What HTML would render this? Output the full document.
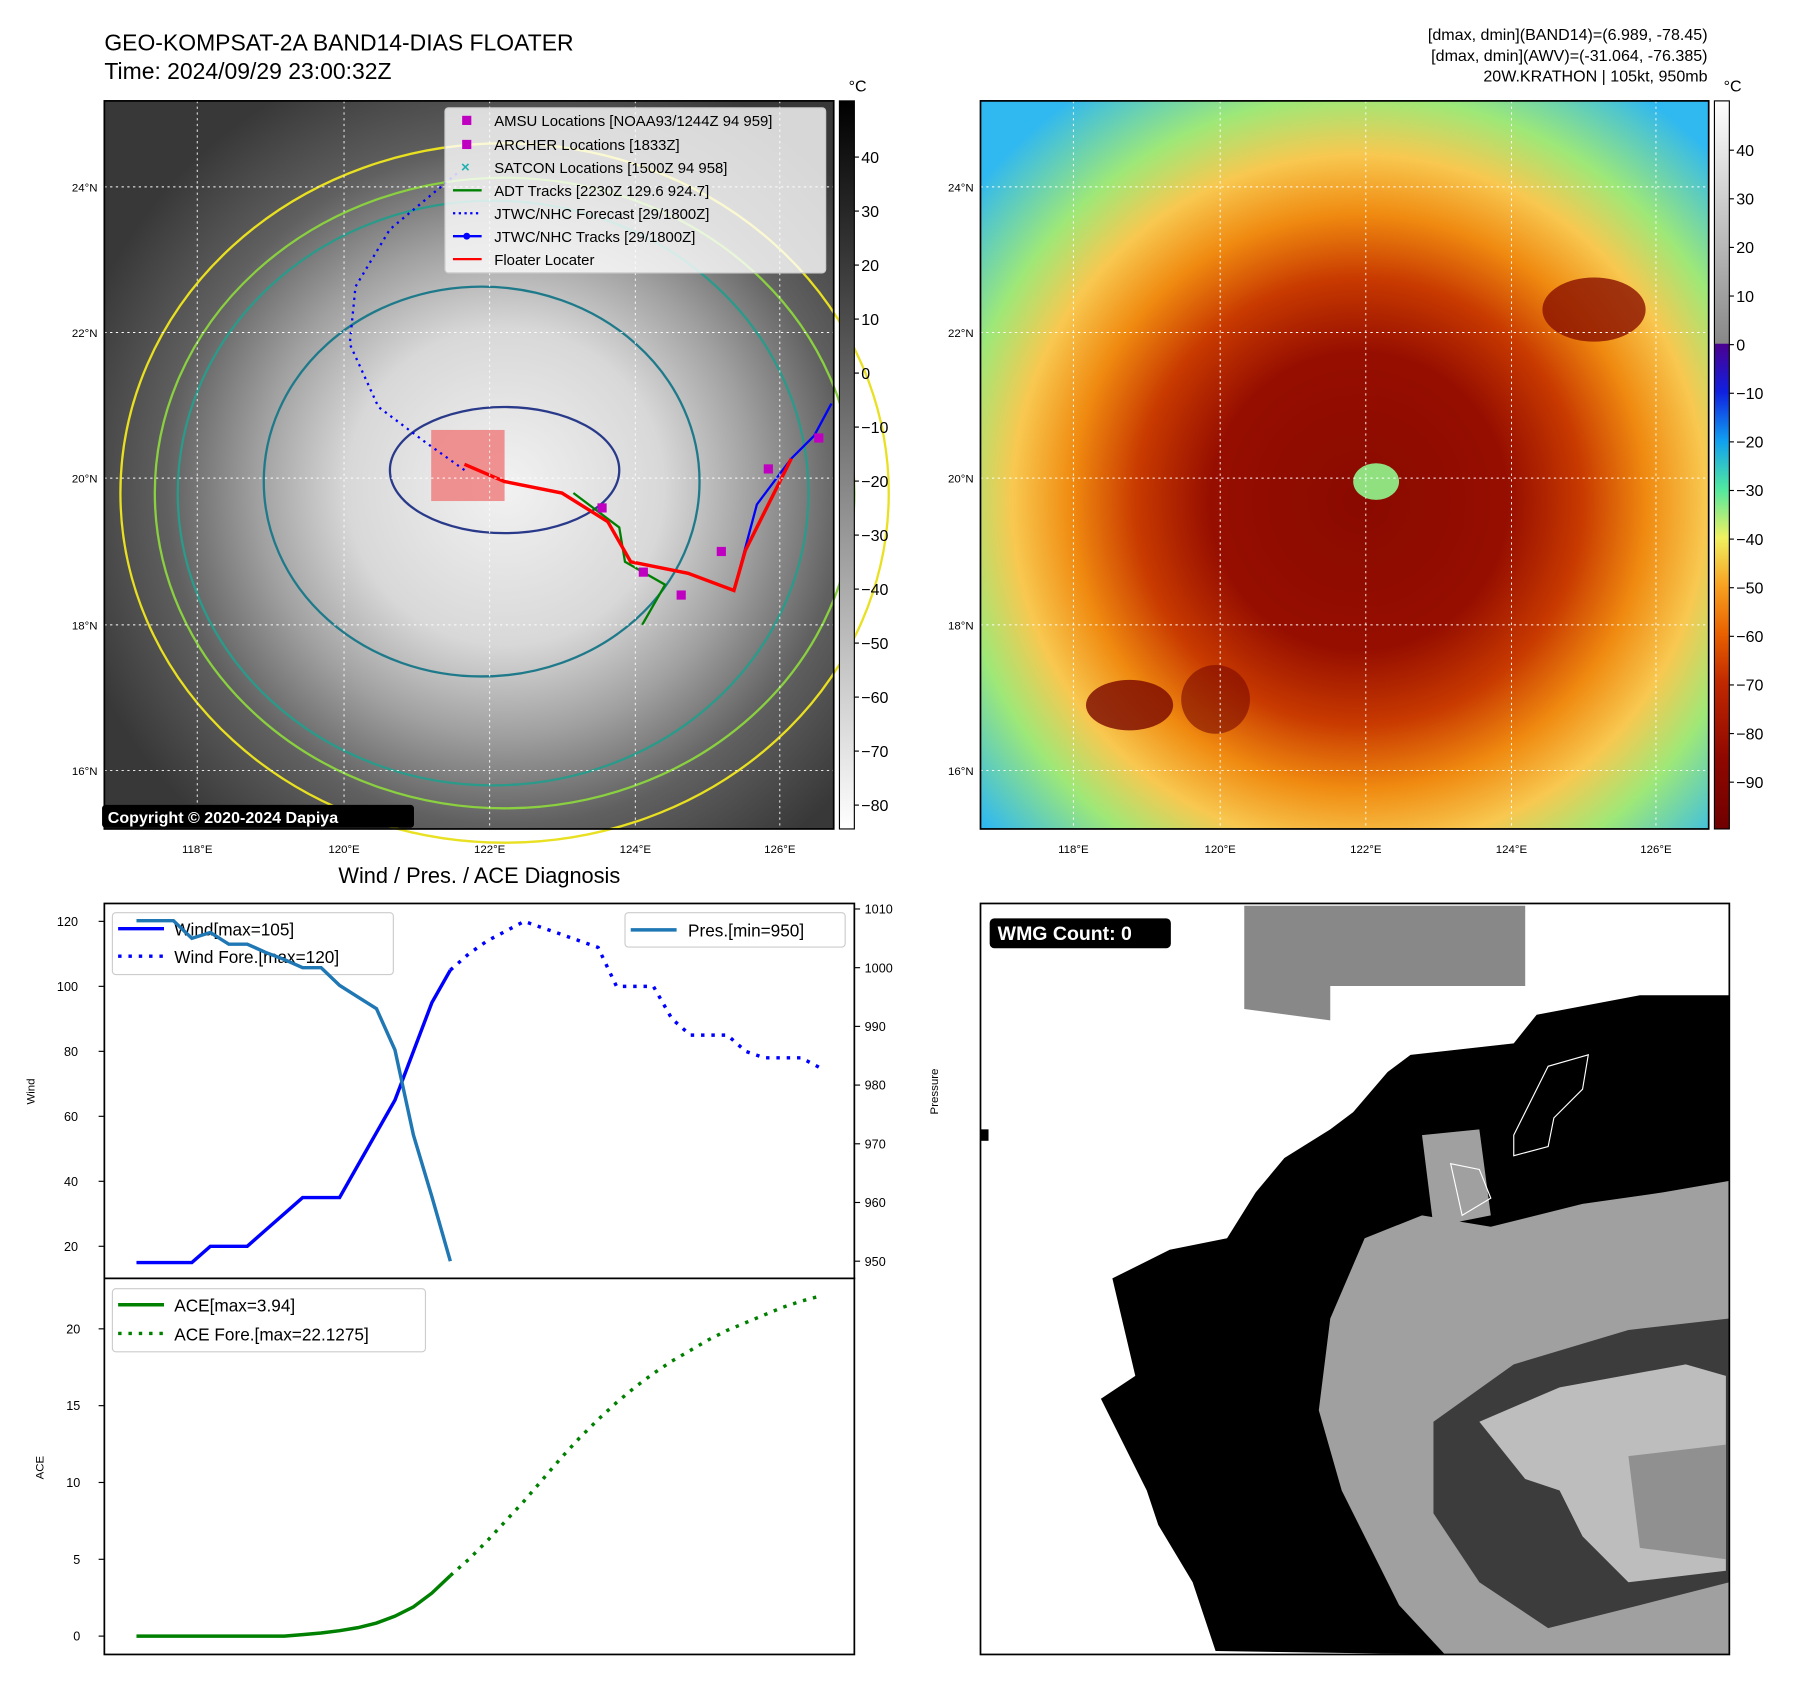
<!DOCTYPE html>
<html><head><meta charset="utf-8"><style>
html,body{margin:0;padding:0;background:#fff;}
svg{display:block;font-family:"Liberation Sans",sans-serif;}
</style></head><body>
<svg id="fig" width="1797" height="1690" viewBox="0 0 1567 1474" preserveAspectRatio="none" xmlns="http://www.w3.org/2000/svg">
<defs>
<radialGradient id="irg" cx="0.55" cy="0.53" r="0.62">
<stop offset="0" stop-color="#f2f2f2"/><stop offset="0.35" stop-color="#d8d8d8"/><stop offset="0.55" stop-color="#a0a0a0"/><stop offset="0.75" stop-color="#606060"/><stop offset="1" stop-color="#383838"/></radialGradient>
<radialGradient id="awv" cx="0.52" cy="0.55" r="0.68">
<stop offset="0" stop-color="#8a0a00"/><stop offset="0.3" stop-color="#960e00"/><stop offset="0.45" stop-color="#c83a00"/><stop offset="0.58" stop-color="#f08a10"/><stop offset="0.7" stop-color="#f8c850"/><stop offset="0.82" stop-color="#9ee878"/><stop offset="1" stop-color="#30b8f0"/></radialGradient>
<linearGradient id="cb1" x1="0" y1="0" x2="0" y2="1"><stop offset="0" stop-color="#000"/><stop offset="1" stop-color="#fff"/></linearGradient>
<linearGradient id="cb2" x1="0" y1="0" x2="0" y2="1">
<stop offset="0" stop-color="#fff"/><stop offset="0.333" stop-color="#888"/><stop offset="0.334" stop-color="#4b0090"/><stop offset="0.4" stop-color="#1020e0"/><stop offset="0.467" stop-color="#10a0f0"/><stop offset="0.533" stop-color="#50e8a0"/><stop offset="0.6" stop-color="#f0f060"/><stop offset="0.667" stop-color="#f8a020"/><stop offset="0.733" stop-color="#e86000"/><stop offset="0.8" stop-color="#c02800"/><stop offset="0.9" stop-color="#900800"/><stop offset="1" stop-color="#700000"/></linearGradient>
</defs>

<text x="91" y="44" font-size="20">GEO-KOMPSAT-2A BAND14-DIAS FLOATER</text>
<text x="91" y="69" font-size="20">Time: 2024/09/29 23:00:32Z</text>
<g font-size="14" text-anchor="end">
<text x="1489" y="35">[dmax, dmin](BAND14)=(6.989, -78.45)</text>
<text x="1489" y="53">[dmax, dmin](AWV)=(-31.064, -76.385)</text>
<text x="1489" y="71">20W.KRATHON | 105kt, 950mb</text></g>

<g>
<rect x="91" y="88" width="636" height="635" fill="url(#irg)"/>
<g fill="none" stroke-width="2">
<ellipse cx="440" cy="430" rx="335" ry="305" stroke="#e8e020"/>
<ellipse cx="440" cy="430" rx="305" ry="275" stroke="#8ad040"/>
<ellipse cx="430" cy="430" rx="275" ry="255" stroke="#2a9a8a"/>
<ellipse cx="420" cy="420" rx="190" ry="170" stroke="#1e7a8a"/>
<ellipse cx="440" cy="410" rx="100" ry="55" stroke="#2a3a8a"/>
</g>
<rect x="376" y="375" width="64" height="62" fill="#f08080" opacity="0.85"/>
<path d="M405 410 L370 385 L330 355 L305 300 L310 250 L340 200 L400 150" fill="none" stroke="#0000ff" stroke-width="2" stroke-dasharray="2,4"/>
<path d="M640 515 L660 440 L690 400 L710 380 L725 352" fill="none" stroke="#0000ff" stroke-width="2"/>
<path d="M560 545 L580 510 L545 490 L540 460 L500 430" fill="none" stroke="#008000" stroke-width="2"/>
<path d="M405 405 L440 420 L490 430 L530 455 L550 490 L600 500 L640 515 L650 480 L670 440 L690 400" fill="none" stroke="#ff0000" stroke-width="3"/>
<g fill="#c000c0"><rect x="521" y="439" width="8" height="8"/><rect x="590" y="515" width="8" height="8"/><rect x="625" y="477" width="8" height="8"/><rect x="666" y="405" width="8" height="8"/><rect x="710" y="378" width="8" height="8"/><rect x="557" y="495" width="8" height="8"/></g>
<g stroke="#fff" stroke-width="0.8" stroke-dasharray="2,3">
<line x1="172" y1="88" x2="172" y2="723"/><line x1="300" y1="88" x2="300" y2="723"/><line x1="427" y1="88" x2="427" y2="723"/><line x1="554" y1="88" x2="554" y2="723"/><line x1="680" y1="88" x2="680" y2="723"/>
<line x1="91" y1="163" x2="727" y2="163"/><line x1="91" y1="290" x2="727" y2="290"/><line x1="91" y1="417" x2="727" y2="417"/><line x1="91" y1="545" x2="727" y2="545"/><line x1="91" y1="672" x2="727" y2="672"/></g>
<rect x="91" y="88" width="636" height="635" fill="none" stroke="#000" stroke-width="1.5"/>
<rect x="89" y="702" width="272" height="20" rx="3" fill="#000"/>
<text x="94" y="718" font-size="14" font-weight="bold" fill="#fff">Copyright © 2020-2024 Dapiya</text>
</g>
<g font-size="13">
<rect x="388" y="94" width="332" height="144" rx="3" fill="#fff" fill-opacity="0.8" stroke="#ccc"/>
<rect x="403" y="101" width="8" height="8" fill="#c000c0"/><text x="431" y="110">AMSU Locations [NOAA93/1244Z 94 959]</text>
<rect x="403" y="122" width="8" height="8" fill="#c000c0"/><text x="431" y="131">ARCHER Locations [1833Z]</text>
<text x="402" y="150" fill="#20b0b0" font-weight="bold">×</text><text x="431" y="151">SATCON Locations [1500Z 94 958]</text>
<line x1="395" y1="166" x2="420" y2="166" stroke="#008000" stroke-width="2"/><text x="431" y="171">ADT Tracks [2230Z 129.6 924.7]</text>
<line x1="395" y1="186" x2="420" y2="186" stroke="#0000ff" stroke-width="2" stroke-dasharray="2,3"/><text x="431" y="191">JTWC/NHC Forecast [29/1800Z]</text>
<line x1="395" y1="206" x2="420" y2="206" stroke="#0000ff" stroke-width="2"/><circle cx="407" cy="206" r="3" fill="#0000ff"/><text x="431" y="211">JTWC/NHC Tracks [29/1800Z]</text>
<line x1="395" y1="226" x2="420" y2="226" stroke="#ff0000" stroke-width="2"/><text x="431" y="231">Floater Locater</text>
</g>
<g font-size="14">
<rect x="732" y="88" width="13" height="635" fill="url(#cb1)" stroke="#000"/>
<text x="740" y="80">°C</text>
<g id="cb1ticks"></g></g>

<g>
<rect x="855" y="88" width="635" height="635" fill="url(#awv)"/>
<ellipse cx="1390" cy="270" rx="45" ry="28" fill="#8a1000" opacity="0.8"/>
<ellipse cx="985" cy="615" rx="38" ry="22" fill="#7a0800" opacity="0.8"/>
<ellipse cx="1060" cy="610" rx="30" ry="30" fill="#7a0800" opacity="0.6"/>
<ellipse cx="1200" cy="420" rx="20" ry="16" fill="#90e080"/>
<g stroke="#fff" stroke-width="0.8" stroke-dasharray="2,3">
<line x1="936" y1="88" x2="936" y2="723"/><line x1="1064" y1="88" x2="1064" y2="723"/><line x1="1191" y1="88" x2="1191" y2="723"/><line x1="1318" y1="88" x2="1318" y2="723"/><line x1="1444" y1="88" x2="1444" y2="723"/>
<line x1="855" y1="163" x2="1490" y2="163"/><line x1="855" y1="290" x2="1490" y2="290"/><line x1="855" y1="417" x2="1490" y2="417"/><line x1="855" y1="545" x2="1490" y2="545"/><line x1="855" y1="672" x2="1490" y2="672"/></g>
<rect x="855" y="88" width="635" height="635" fill="none" stroke="#000" stroke-width="1.5"/>
</g>
<g font-size="14">
<rect x="1495" y="88" width="13" height="635" fill="url(#cb2)" stroke="#000"/>
<text x="1503" y="80">°C</text>
<g id="cb2ticks"></g></g>
<g id="maplabels" font-size="10"></g>

<g>
<rect x="855" y="788" width="653" height="655" fill="#fff"/>
<polygon points="1085,790 1330,790 1330,860 1160,860 1160,890 1085,880" fill="#888"/>
<polygon points="855,985 862,985 862,995 855,995" fill="#000"/>
<polygon points="1508,868 1430,868 1340,885 1320,910 1230,920 1210,935 1180,970 1160,985 1120,1010 1095,1040 1070,1080 1020,1090 970,1115 990,1200 960,1220 1000,1300 1010,1330 1040,1380 1060,1440 1260,1443 1508,1443 1508,1380" fill="#000"/>
<polygon points="1508,1030 1450,1040 1380,1050 1300,1070 1240,1060 1190,1080 1160,1150 1150,1230 1170,1300 1220,1400 1260,1443 1508,1443" fill="#a0a0a0"/>
<polygon points="1250,1240 1320,1190 1420,1160 1508,1150 1508,1380 1430,1400 1350,1420 1290,1380 1250,1320" fill="#3c3c3c"/>
<polygon points="1290,1240 1360,1210 1470,1190 1505,1200 1505,1370 1420,1380 1380,1340 1360,1300 1330,1290" fill="#bdbdbd"/>
<polygon points="1420,1270 1505,1260 1505,1360 1430,1350" fill="#909090"/>
<polygon points="1240,990 1290,985 1300,1060 1250,1070" fill="#a0a0a0"/>
<path d="M1320 990 L1350 930 L1385 920 L1380 950 L1355 975 L1350 1000 L1320 1008 Z M1265 1015 L1290 1020 L1300 1045 L1275 1060 Z" fill="none" stroke="#fff" stroke-width="1"/>
<rect x="855" y="788" width="653" height="655" fill="none" stroke="#000" stroke-width="1.5"/>
<rect x="863" y="801" width="158" height="26" rx="4" fill="#000"/>
<text x="870" y="820" font-size="17" font-weight="bold" fill="#fff">WMG Count: 0</text>
</g>

<text x="418" y="770" font-size="19" text-anchor="middle">Wind / Pres. / ACE Diagnosis</text>
<g id="wind-chart"></g>
<g id="ace-chart"></g>
</svg>
<script>
const windHist=[15,15,15,15,20,20,20,25,30,35,35,35,45,55,65,80,95,105];
const windFore=[105,110,114,117,120,118,116,114,112,100,100,100,90,85,85,85,80,78,78,78,75];
const presHist=[1008,1008,1008,1005,1006,1004,1004,1002.6,1001.4,1000,1000,997,995,993,986,971.5,961,950];
const aceHist=[0,0,0,0,0,0,0,0,0,0.1,0.2,0.35,0.55,0.85,1.3,1.9,2.8,3.94];
const aceFore=[3.94,5,6.2,7.5,8.8,10.2,11.6,12.9,14.1,15.2,16.2,17.1,17.9,18.6,19.3,19.9,20.4,20.9,21.4,21.8,22.13];
const windTicks=[20,40,60,80,100,120];
const presTicks=[950,960,970,980,990,1000,1010];
const aceTicks=[0,5,10,15,20];
const NS='http://www.w3.org/2000/svg';
function mk(tag,attrs,parent,text){const e=document.createElementNS(NS,tag);for(const k in attrs)e.setAttribute(k,attrs[k]);if(text!==undefined)e.textContent=text;parent.appendChild(e);return e;}
const xs=i=>119+i*16.1;
const yW=v=>1087-(v-20)*2.834;
const yP=v=>1100-(v-950)*5.12;
const yA=v=>1427-v*13.4;
const wc=document.getElementById('wind-chart');
const ac=document.getElementById('ace-chart');
mk('rect',{x:91,y:788,width:654,height:327,fill:'#fff',stroke:'#000','stroke-width':1.5},wc);
mk('rect',{x:91,y:1115,width:654,height:328,fill:'#fff',stroke:'#000','stroke-width':1.5},ac);
windTicks.forEach(v=>{mk('line',{x1:86,x2:91,y1:yW(v),y2:yW(v),stroke:'#000'},wc);const t=mk('text',{x:68,y:yW(v)+4,'font-size':11,'text-anchor':'end'},wc,v);});
presTicks.forEach(v=>{mk('line',{x1:745,x2:750,y1:yP(v),y2:yP(v),stroke:'#000'},wc);const t=mk('text',{x:754,y:yP(v)+4,'font-size':11},wc,v);});
aceTicks.forEach(v=>{mk('line',{x1:86,x2:91,y1:yA(v),y2:yA(v),stroke:'#000'},ac);const t=mk('text',{x:70,y:yA(v)+4,'font-size':11,'text-anchor':'end'},ac,v);});
mk('text',{x:30,y:952,'font-size':10,transform:'rotate(-90 30 952)','text-anchor':'middle'},wc,'Wind');
mk('text',{x:818,y:952,'font-size':10,transform:'rotate(-90 818 952)','text-anchor':'middle'},wc,'Pressure');
mk('text',{x:38,y:1280,'font-size':10,transform:'rotate(-90 38 1280)','text-anchor':'middle'},ac,'ACE');
function line(arr,off,yf,col,dash,par,name,w){const p=arr.map((v,i)=>xs(i+off).toFixed(1)+','+yf(v).toFixed(1)).join(' ');const e=mk('polyline',{points:p,fill:'none',stroke:col,'stroke-width':w||3},par);if(dash)e.setAttribute('stroke-dasharray',dash);}
line(windHist,0,yW,'#0000ff',null,wc,'wind-line');
line(windFore,17,yW,'#0000ff','3,6',wc,'wind-forecast-line');
line(aceHist,0,yA,'#008000',null,ac,'ace-line');
line(aceFore,17,yA,'#008000','3,6',ac,'ace-forecast-line');
const lg=mk('g',{'font-size':15},wc);
mk('rect',{x:98,y:796,width:245,height:54,rx:3,fill:'#fff','fill-opacity':0.8,stroke:'#ccc'},lg);
mk('line',{x1:103,x2:143,y1:810,y2:810,stroke:'#0000ff','stroke-width':3},lg);mk('text',{x:152,y:816},lg,'Wind[max=105]');
mk('line',{x1:103,x2:143,y1:834,y2:834,stroke:'#0000ff','stroke-width':3,'stroke-dasharray':'3,6'},lg);mk('text',{x:152,y:840},lg,'Wind Fore.[max=120]');
line(presHist,0,yP,'#1f77b4',null,wc,'pressure-line');
const lp=mk('g',{'font-size':15},wc);
mk('rect',{x:545,y:796,width:192,height:30,rx:3,fill:'#fff','fill-opacity':0.8,stroke:'#ccc'},lp);
mk('line',{x1:550,x2:590,y1:811,y2:811,stroke:'#1f77b4','stroke-width':3},lp);mk('text',{x:600,y:817},lp,'Pres.[min=950]');
const la=mk('g',{'font-size':15},ac);
mk('rect',{x:98,y:1124,width:273,height:55,rx:3,fill:'#fff','fill-opacity':0.8,stroke:'#ccc'},la);
mk('line',{x1:103,x2:143,y1:1138,y2:1138,stroke:'#008000','stroke-width':3},la);mk('text',{x:152,y:1144},la,'ACE[max=3.94]');
mk('line',{x1:103,x2:143,y1:1163,y2:1163,stroke:'#008000','stroke-width':3,'stroke-dasharray':'3,6'},la);mk('text',{x:152,y:1169},la,'ACE Fore.[max=22.1275]');
const cb1=[40,30,20,10,0,-10,-20,-30,-40,-50,-60,-70,-80];
const cb2=[40,30,20,10,0,-10,-20,-30,-40,-50,-60,-70,-80,-90];
const g1=document.getElementById('cb1ticks'),g2=document.getElementById('cb2ticks');
cb1.forEach(v=>{const y=137+(40-v)*4.71;mk('line',{x1:745,x2:749,y1:y,y2:y,stroke:'#000'},g1);mk('text',{x:751,y:y+5},g1,v<0?'\u2212'+(-v):v);});
cb2.forEach(v=>{const y=131+(40-v)*4.24;mk('line',{x1:1508,x2:1512,y1:y,y2:y,stroke:'#000'},g2);mk('text',{x:1514,y:y+5},g2,v<0?'\u2212'+(-v):v);});
const ml=document.getElementById('maplabels');
const lats=[['24°N',163],['22°N',290],['20°N',417],['18°N',545],['16°N',672]];
const lons=[['118°E',172],['120°E',300],['122°E',427],['124°E',554],['126°E',680]];
[[91,0],[855,764]].forEach(([x0,dx])=>{
lats.forEach(([t,y])=>mk('text',{x:x0-6,y:y+4,'text-anchor':'end'},ml,t));
lons.forEach(([t,x])=>mk('text',{x:x+dx,y:744,'text-anchor':'middle'},ml,t));});
</script>
</body></html>
